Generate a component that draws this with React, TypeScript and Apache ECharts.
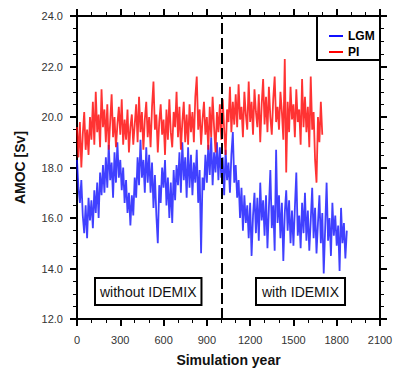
import React, { useEffect, useRef } from "react";
import * as echarts from "echarts";

const STEP = 10;
const xTicks = [0, 300, 600, 900, 1200, 1500, 1800, 2100];
const yTicks = [12, 14, 16, 18, 20, 22, 24];

const lgm = [
  18.3, 17.2, 16.6, 17.5, 16.1, 15.4, 16.5, 15.2, 16.8, 15.9,
  16.7, 15.6, 17.1, 16.2, 17.4, 16.0, 17.8, 16.9, 18.1, 17.0,
  18.4, 17.2, 18.9, 17.5, 18.2, 16.8, 18.6, 17.4, 19.0, 17.6,
  18.3, 17.1, 18.0, 16.6, 17.5, 16.2, 17.0, 15.7, 16.9, 16.1,
  17.6, 16.8, 18.4, 17.3, 19.1, 17.6, 18.3, 17.0, 18.8, 17.4,
  18.5, 17.0, 18.2, 16.4, 17.7, 16.1, 15.0, 17.3, 16.6, 18.0,
  17.2, 18.3, 16.5, 17.6, 16.0, 17.4, 15.8, 17.9, 16.7, 18.1,
  17.3, 18.6, 17.0, 19.0, 17.5, 18.4, 16.8, 18.8, 17.2, 18.5,
  16.9, 18.2, 17.4, 18.7, 16.6, 17.9, 14.6, 17.6, 17.1, 18.5,
  17.4, 18.9, 17.7, 19.2, 17.3, 18.6, 17.8, 19.0, 17.5, 18.8,
  17.6, 18.4, 16.9, 18.7, 17.5, 18.2, 17.0, 18.5, 19.4, 17.4,
  18.1, 16.8, 17.5, 16.0, 17.2, 15.5, 16.9, 15.8, 16.5, 15.2,
  16.6, 14.5, 16.1, 17.0, 15.4, 16.8, 15.1, 17.4, 15.9, 16.7,
  15.3, 16.9, 14.8, 16.4, 17.9, 15.6, 16.5, 14.7, 18.7, 15.8,
  16.9, 15.2, 16.6, 14.3, 16.2, 17.1, 15.5, 16.7, 15.0, 16.3,
  14.9, 16.4, 17.8, 15.3, 16.1, 14.8, 16.6, 15.4, 17.0, 15.1,
  16.3, 14.7, 15.9, 17.2, 15.2, 16.4, 14.6, 15.8, 16.9, 15.0,
  16.2, 13.8, 15.6, 17.4, 15.1, 16.0, 14.5, 16.6, 15.3, 16.1,
  14.9, 15.7, 13.9, 16.4, 15.0, 15.8, 14.4, 15.5,
];

const pi = [
  19.6, 18.4, 19.8, 18.0, 19.3, 20.2, 18.7, 19.5, 18.5, 20.0,
  19.1, 20.6, 18.9, 21.0, 19.4, 20.1, 18.8, 21.1, 19.6, 20.3,
  19.0, 20.5, 18.7, 19.8, 20.9, 19.2, 20.0, 18.8, 19.7, 20.4,
  19.3, 20.7, 18.9, 19.9, 19.1, 20.3, 18.6, 19.6, 20.1, 18.9,
  19.7, 20.5, 19.0, 20.8, 19.4, 20.2, 18.7, 19.9, 20.6, 19.2,
  20.0, 18.8, 20.4, 21.4, 19.5, 20.1, 18.6, 19.8, 20.5, 19.3,
  19.9, 18.5, 20.3, 19.1, 20.7, 19.4, 18.8, 20.2, 19.6, 21.0,
  19.2, 20.4, 18.7, 19.8, 20.6, 19.0, 20.1, 18.9, 20.5, 19.4,
  20.2, 19.0, 20.8, 21.6, 19.5, 20.3, 18.9, 19.9, 20.6, 19.3,
  20.0, 18.7, 20.4, 19.2, 20.8, 19.6, 18.6, 20.2, 19.4, 20.5,
  19.1, 20.7, 19.5, 18.5, 20.3, 19.8, 21.2, 19.4, 20.6, 19.7,
  20.9, 19.6, 21.3, 19.9, 20.4, 19.2, 21.0, 20.1, 19.5, 21.4,
  19.8, 20.6, 19.3, 21.1, 20.2, 19.6, 20.9, 19.0, 20.5, 21.5,
  19.7, 20.8, 19.4, 21.2, 20.0, 19.3, 20.7, 21.6, 19.8, 20.4,
  19.5, 21.0, 20.2, 19.1, 22.3, 17.8, 20.6, 19.4, 21.2, 19.9,
  20.5, 19.2, 21.1, 19.8, 20.3, 18.9, 21.5, 19.6, 20.8, 19.4,
  20.4, 18.8, 21.6, 19.5, 20.2, 18.3, 17.4, 20.0, 19.0, 20.6,
  19.3,
];

const seriesNames = ["LGM", "PI"];
const seriesColors = ["#1010ff", "#ff0000"];
const divider = 1000;

const FONT = "'Liberation Sans', Arial, sans-serif";

export default function App() {
  const ref = useRef<HTMLDivElement>(null);
  useEffect(() => {
    document.body.style.margin = "0";
    if (!ref.current) return;
    const chart = echarts.init(ref.current, null, { renderer: "svg" });
    const toPairs = (arr: number[]) => arr.map((v, i) => [i * STEP, v]);

    const axisLine = { show: true, onZero: false, lineStyle: { color: "#000", width: 2 } };
    const tick = { show: true, inside: false, length: 7, lineStyle: { color: "#000", width: 2 } };
    const minor = (n: number) => ({ show: true, splitNumber: n, length: 4, lineStyle: { color: "#000", width: 1 } });

    const xBase = {
      type: "value" as const,
      min: xTicks[0],
      max: xTicks[xTicks.length - 1],
      interval: xTicks[1] - xTicks[0],
      axisLine,
      axisTick: tick,
      minorTick: minor(3),
      splitLine: { show: false },
    };
    const yBase = {
      type: "value" as const,
      min: yTicks[0],
      max: yTicks[yTicks.length - 1],
      interval: yTicks[1] - yTicks[0],
      axisLine,
      axisTick: tick,
      minorTick: minor(4),
      splitLine: { show: false },
    };

    chart.setOption({
      animation: false,
      backgroundColor: "#fff",
      grid: { left: 77, right: 20, top: 16, bottom: 60, containLabel: false },
      legend: {
        data: seriesNames,
        orient: "vertical",
        left: 324,
        top: 25,
        itemWidth: 14,
        itemHeight: 2,
        itemGap: 4,
        icon: "rect",
        textStyle: { fontFamily: FONT, fontWeight: "bold", fontSize: 12, color: "#000" },
      },
      xAxis: [
        {
          ...xBase,
          position: "bottom",
          name: "Simulation year",
          nameLocation: "middle",
          nameGap: 34,
          nameTextStyle: { fontFamily: FONT, fontWeight: "bold", fontSize: 14, color: "#111" },
          axisLabel: {
            show: true,
            margin: 15,
            fontFamily: FONT,
            fontSize: 11,
            color: "#333",
            formatter: (v: number) => String(v),
          },
        },
        { ...xBase, position: "top", axisLabel: { show: false } },
      ],
      yAxis: [
        {
          ...yBase,
          position: "left",
          name: "AMOC [Sv]",
          nameLocation: "middle",
          nameGap: 50,
          nameTextStyle: { fontFamily: FONT, fontWeight: "bold", fontSize: 14, color: "#111" },
          axisLabel: {
            show: true,
            margin: 14,
            fontFamily: FONT,
            fontSize: 11,
            color: "#333",
            formatter: (v: number) => v.toFixed(1),
          },
        },
        { ...yBase, position: "right", axisLabel: { show: false } },
      ],
      series: [
        {
          name: seriesNames[0],
          type: "line",
          data: toPairs(lgm),
          showSymbol: false,
          symbol: "none",
          color: seriesColors[0],
          lineStyle: { width: 1.8, color: seriesColors[0], opacity: 0.8 },
          z: 2,
          markLine: {
            silent: true,
            symbol: "none",
            label: { show: false },
            lineStyle: { color: "#000", width: 2, type: [11, 4] },
            data: [{ xAxis: divider }],
          },
        },
        {
          name: seriesNames[1],
          type: "line",
          data: toPairs(pi),
          showSymbol: false,
          symbol: "none",
          color: seriesColors[1],
          lineStyle: { width: 1.8, color: seriesColors[1], opacity: 0.8 },
          z: 3,
        },
      ],
      graphic: [
        {
          type: "rect",
          shape: { x: 317, y: 16, width: 63, height: 44 },
          style: { fill: "transparent", stroke: "#000", lineWidth: 2 },
          z: 10,
        },
        {
          type: "text",
          x: 96,
          y: 279,
          style: {
            text: "without IDEMIX",
            fontFamily: FONT,
            fontSize: 14,
            fill: "#111",
            backgroundColor: "#fff",
            borderColor: "#000",
            borderWidth: 2,
            padding: [6, 4, 5, 4],
          },
          z: 10,
        },
        {
          type: "text",
          x: 257,
          y: 279,
          style: {
            text: "with IDEMIX",
            fontFamily: FONT,
            fontSize: 14,
            fill: "#111",
            backgroundColor: "#fff",
            borderColor: "#000",
            borderWidth: 2,
            padding: [6, 5, 5, 5],
          },
          z: 10,
        },
      ],
    });
    return () => chart.dispose();
  }, []);
  return <div ref={ref} style={{ width: 400, height: 379 }} />;
}
